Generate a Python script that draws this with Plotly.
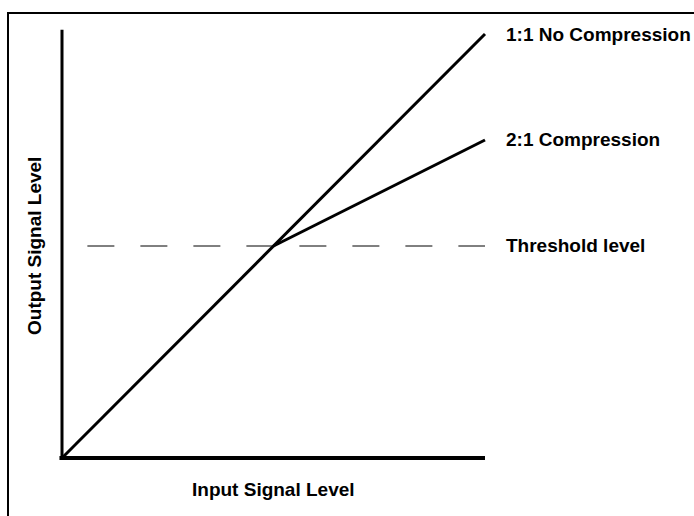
import plotly.graph_objects as go

# Data (normalised signal levels)
input_level = [0.0, 0.5, 1.0]
output_no_compression = [0.0, 0.5, 1.0]
input_compressed = [0.5, 1.0]
output_compressed = [0.5, 0.75]
threshold = 0.5
dash_start = 0.06
y_axis_top = 1.01

labels = {
    "no_comp": "1:1 No Compression",
    "comp": "2:1 Compression",
    "thresh": "Threshold level",
    "x": "Input Signal Level",
    "y": "Output Signal Level",
}

W, H = 694, 516
# pixel mapping: x=0 -> 62px, x=1 -> 485px ; y=0 -> 458px, y=1 -> 34px
px_x0, px_x1 = 62, 485
px_y0, px_y1 = 458, 34
sx = px_x1 - px_x0
sy = px_y0 - px_y1
xr = [-px_x0 / sx, (W - px_x0) / sx]
yr = [-(H - px_y0) / sy, px_y0 / sy]

font = dict(family="Arial, Liberation Sans, sans-serif", size=19, color="#000000", weight="bold")

fig = go.Figure()

# Threshold dashed line
fig.add_trace(go.Scatter(
    x=[dash_start, input_level[-1]], y=[threshold, threshold], mode="lines",
    line=dict(color="#000000", width=1, dash="27px,26px"), hoverinfo="skip"))

# 1:1 line
fig.add_trace(go.Scatter(
    x=input_level, y=output_no_compression, mode="lines",
    line=dict(color="#000000", width=3), hoverinfo="skip"))

# 2:1 line
fig.add_trace(go.Scatter(
    x=input_compressed, y=output_compressed, mode="lines",
    line=dict(color="#000000", width=3), hoverinfo="skip"))

shapes = [
    # x axis
    dict(type="line", xref="x", yref="y", x0=-0.006, x1=input_level[-1], y0=0, y1=0,
         line=dict(color="#000000", width=4)),
    # y axis
    dict(type="line", xref="x", yref="y", x0=0, x1=0, y0=-0.005, y1=y_axis_top,
         line=dict(color="#000000", width=3)),
    # frame top
    dict(type="line", xref="paper", yref="paper", x0=8 / W, x1=1.0, y0=1 - 13 / H, y1=1 - 13 / H,
         line=dict(color="#000000", width=2)),
    # frame left
    dict(type="line", xref="paper", yref="paper", x0=8 / W, x1=8 / W, y0=0.0, y1=1 - 12 / H,
         line=dict(color="#000000", width=2)),
]

annotations = [
    dict(x=input_level[-1], y=output_no_compression[-1], text=labels["no_comp"], xanchor="left",
         yanchor="middle", xshift=19, yshift=0, showarrow=False, font=font),
    dict(x=input_compressed[-1], y=output_compressed[-1], text=labels["comp"], xanchor="left",
         yanchor="middle", xshift=19, yshift=1, showarrow=False, font=font),
    dict(x=input_level[-1], y=threshold, text=labels["thresh"], xanchor="left",
         yanchor="middle", xshift=19, yshift=1, showarrow=False, font=font),
    dict(x=0.5, y=0, text=labels["x"], xanchor="center", yanchor="middle",
         yshift=-31, showarrow=False, font=font),
    dict(x=0, y=0.5, text=labels["y"], xanchor="center", yanchor="middle", textangle=-90,
         xshift=-28, showarrow=False, font=font),
]

fig.update_layout(
    width=W, height=H,
    margin=dict(l=0, r=0, t=0, b=0),
    paper_bgcolor="#ffffff", plot_bgcolor="#ffffff",
    showlegend=False,
    xaxis=dict(range=xr, visible=False, fixedrange=True),
    yaxis=dict(range=yr, visible=False, fixedrange=True),
    shapes=shapes,
    annotations=annotations,
)

fig.write_html("out.html", config={"displayModeBar": False},
               post_script="document.body.style.margin='0';document.body.style.overflow='hidden';")
